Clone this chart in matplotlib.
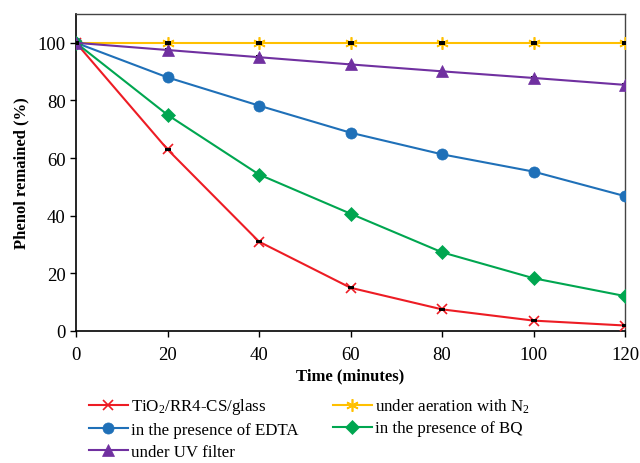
import matplotlib
matplotlib.use("Agg")
import matplotlib.pyplot as plt

plt.rcParams['font.family'] = ['Liberation Serif', 'DejaVu Serif']
plt.rcParams['mathtext.fontset'] = 'custom'
plt.rcParams['mathtext.rm'] = 'Liberation Serif'
plt.rcParams['mathtext.it'] = 'Liberation Serif:italic'

time = [0, 20, 40, 60, 80, 100, 120]
tio2 = [100, 63, 31, 15, 7.5, 3.6, 1.9]
n2 = [100, 100, 100, 100, 100, 100, 100]
edta = [100, 88, 78.2, 68.8, 61.3, 55.3, 46.8]
bq = [100, 75, 54.3, 40.7, 27.3, 18.3, 12.1]
uv = [100, 97.5, 95, 92.5, 90.1, 87.8, 85.4]

labels = ["TiO$_2$/RR4-CS/glass", "under aeration with N$_2$",
          "in the presence of EDTA", "in the presence of BQ", "under UV filter"]

fig = plt.figure(figsize=(6.4, 4.64), dpi=100)
ax = fig.add_axes([0.11875, 0.2845, 0.858, 0.6832])

series = [
    (tio2, '#ED1C24', 'x', 7, labels[0], 4),
    (n2, '#FFC000', (6, 2, 0), 9, labels[1], 4),
    (edta, '#1F70B8', 'o', 8, labels[2], 2.5),
    (bq, '#00A650', 'D', 7, labels[3], 2.5),
    (uv, '#7030A0', '^', 8, labels[4], 2.5),
]
handles = {}
for ys, c, m, ms, lab, ez in series:
    ax.errorbar(time, ys, yerr=0.25, fmt='none', ecolor='black', elinewidth=0.8,
                capsize=2.5, capthick=1.4, zorder=ez)
    h, = ax.plot(time, ys, color=c, marker=m, markersize=ms, lw=1.5,
                 markeredgewidth=1.2 if m in ('x', (6, 2, 0)) else 0.5,
                 markeredgecolor=c, label=lab, zorder=3)
    handles[lab] = h

ax.set_xlim(0, 120)
ax.set_ylim(0, 110)
ax.set_xticks(range(0, 121, 20))
ax.set_yticks(range(0, 101, 20))
ax.tick_params(direction='out', length=4, width=1, labelsize=13.5)
ax.tick_params(axis='x', pad=7)
for s in ['left', 'bottom']:
    ax.spines[s].set_linewidth(1.2)
    ax.spines[s].set_color('black')
for s in ['top', 'right']:
    ax.spines[s].set_linewidth(1.0)
    ax.spines[s].set_color('#444444')

ax.set_xlabel("Time (minutes)", fontsize=12, fontweight='bold', labelpad=3)
ax.set_ylabel("Phenol remained (%)", fontsize=12, fontweight='bold', labelpad=6)

order = [labels[0], labels[2], labels[4], labels[1], labels[3]]
fig.legend([handles[l] for l in order], order, loc='upper left',
           bbox_to_anchor=(0.128, 0.158), ncol=2, frameon=False,
           fontsize=12.2, handlelength=2.3, handletextpad=0.2, columnspacing=2.0,
           labelspacing=0.33, borderaxespad=0)

fig.savefig("out.png", dpi=100)
